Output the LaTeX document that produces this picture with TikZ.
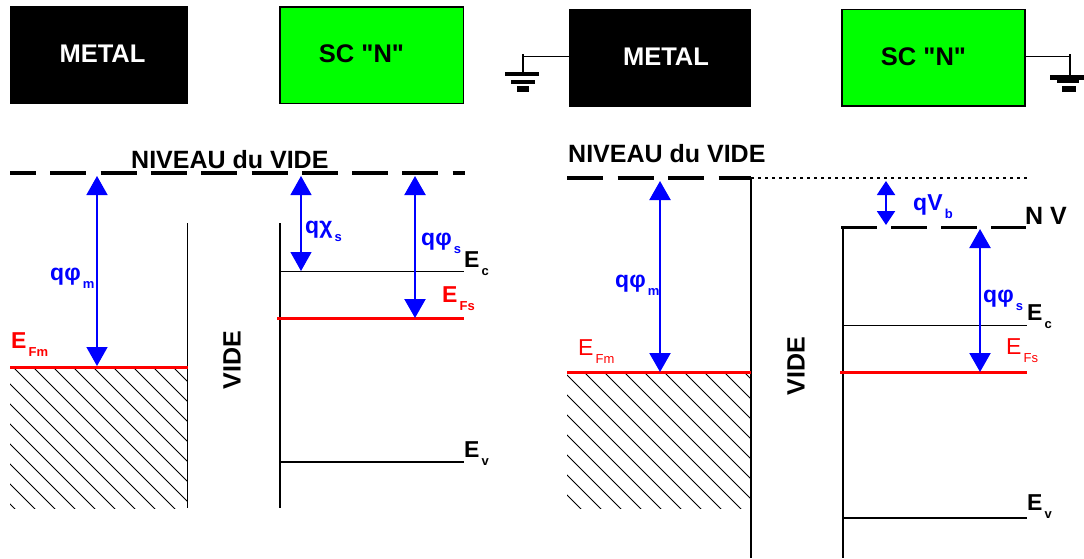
\documentclass[tikz,border=0pt]{standalone}
\usepackage{fontspec}
\setmainfont{Liberation Sans}
\newfontfamily\plainquote{Liberation Sans}
\usepackage{xcolor}
\definecolor{sclime}{HTML}{00FF00}
\definecolor{lvlred}{HTML}{FF0000}
\definecolor{arrblue}{HTML}{0000FF}
\usetikzlibrary{arrows.meta}
\newcommand{\sbs}[1]{\raisebox{-8pt}{\fontsize{13}{13}\selectfont\,#1}}

\begin{document}
\begin{tikzpicture}[x=1pt,y=-1pt]

\tikzstyle{box}=[
	rectangle,
	inner sep=0pt,
	outer sep=0pt,
	minimum height=98pt
]
\tikzstyle{metalbox}=[box, fill=black]
\tikzstyle{scbox}=[box, fill=sclime, draw=black, line width=1.5pt, minimum height=96.5pt]
\tikzstyle{boxtxt}=[inner sep=0pt, anchor=base, font=\plainquote\bfseries\fontsize{25.5}{25.5}\selectfont]
\tikzstyle{lab}=[inner sep=0pt, anchor=base west, font=\bfseries\fontsize{23}{23}\selectfont]
\tikzstyle{blab}=[lab, text=arrblue]
\tikzstyle{rlab}=[lab, text=lvlred]
\tikzstyle{rlabthin}=[rlab, font=\fontsize{23}{23}\selectfont]
\tikzstyle{title}=[inner sep=0pt, anchor=base west, font=\bfseries\fontsize{25}{25}\selectfont]
\tikzstyle{vide}=[inner sep=0pt, rotate=90, font=\bfseries\fontsize{25}{25}\selectfont]
\tikzstyle{arr}=[{Triangle[length=19pt,width=21pt]}-{Triangle[length=19pt,width=21pt]}, arrblue]
\tikzstyle{lvl}=[line width=1pt]
\tikzstyle{lvlthick}=[line width=2.6pt]
\tikzstyle{fermi}=[line width=3pt, lvlred]
\tikzstyle{vac}=[line width=3.5pt, dash pattern=on 36pt off 14.3pt]
\tikzstyle{hatch}=[line width=1pt]
\tikzstyle{gnd}=[line width=2.2pt]

\useasboundingbox (0,0) rectangle (1084,558);

% left pair
\node[metalbox, minimum width=178pt] (metala) at (99,55) {};
\node[boxtxt, text=white] (metalatxt) at (102.5,62) {METAL};
\node[scbox, minimum width=183.5pt] (sca) at (371.5,55) {};
\node[boxtxt] (scatxt) at (361.5,62) {SC "N"};

\begin{scope}
\clip (10,367) rectangle (187,508);
\foreach \x in {-147,-127,...,193} {
	\draw[hatch] (\x,367) -- ++(200,200);
}
\end{scope}

\coordinate (vaca0) at (10,173);
\coordinate (vaca1) at (465,173);
\coordinate (fma0) at (10,367);
\coordinate (fma1) at (188,367);
\coordinate (wma0) at (187,223);
\coordinate (wma1) at (187,508);
\coordinate (wsa0) at (280,223);
\coordinate (wsa1) at (280,508);
\coordinate (eca0) at (280,271);
\coordinate (eca1) at (464,271);
\coordinate (fsa0) at (277,318);
\coordinate (fsa1) at (464,318);
\coordinate (eva0) at (280,462);
\coordinate (eva1) at (464,462);

\draw[vac, dash phase=10pt] (vaca0) -- (vaca1);
\draw[lvl] (wma0) -- (wma1);
\draw[lvlthick] (wsa0) -- (wsa1);
\draw[lvl] (eca0) -- (eca1);
\draw[lvlthick] (eva0) -- (eva1);
\draw[fermi] (fma0) -- (fma1);
\draw[fermi] (fsa0) -- (fsa1);

\coordinate (phima0) at (97,176);
\coordinate (phima1) at (97,366);
\coordinate (chia0) at (301,176);
\coordinate (chia1) at (301,271);
\coordinate (phisa0) at (415,176);
\coordinate (phisa1) at (415,318);
\draw[arr, line width=1.5pt] (phima0) -- (phima1);
\draw[arr, line width=1.2pt] (chia0) -- (chia1);
\draw[arr, line width=2.2pt] (phisa0) -- (phisa1);

\node[title] (vtxta) at (131,168) {NIVEAU du VIDE};
\node[vide] (videa) at (232,360) {VIDE};
\node[blab] (lphima) at (50,280) {qφ\sbs{m}};
\node[blab] (lchia) at (305,233) {qχ\sbs{s}};
\node[blab] (lphisa) at (421,245) {qφ\sbs{s}};
\node[rlab] (lfma) at (11,348) {E\sbs{Fm}};
\node[rlab] (lfsa) at (442,302) {E\sbs{Fs}};
\node[lab] (leca) at (464,267) {E\sbs{c}};
\node[lab] (leva) at (464,457) {E\sbs{v}};

% right pair
\node[metalbox, minimum width=182pt] (metalb) at (660,57.5) {};
\node[boxtxt, text=white] (metalbtxt) at (666,65) {METAL};
\node[scbox, minimum width=183pt] (scb) at (933.5,57.5) {};
\node[boxtxt] (scbtxt) at (923.5,65) {SC "N"};

\coordinate (gla) at (523,56.7);
\coordinate (glb) at (523,74);
\coordinate (gra) at (1070,56.7);
\coordinate (grb) at (1070,77);
\draw[line width=1.5pt] (metalb.west |- gla) -- (gla);
\draw[gnd] (523,54) -- (glb);
\draw[line width=1.5pt] (scb.east |- gra) -- (gra);
\draw[gnd] (1070,54) -- (grb);
\draw[line width=3.5pt] (505,74) -- (539,74);
\draw[line width=3.5pt] (511,82) -- (535,82);
\draw[line width=6pt] (517,89) -- (529,89);
\draw[line width=5pt] (1050,77) -- (1084,77);
\draw[line width=3.5pt] (1057,81.5) -- (1079,81.5);
\draw[line width=6pt] (1062,89) -- (1076,89);

\begin{scope}
\clip (567,372) rectangle (750,508);
\foreach \x in {-150,-130,...,190} {
	\draw[hatch] (\x+554,372) -- ++(200,200);
}
\end{scope}

\coordinate (vacb0) at (567,178);
\coordinate (vacb1) at (751,178);
\coordinate (dotb1) at (1028,178);
\coordinate (nvb0) at (841,227);
\coordinate (nvb1) at (1026,227);
\coordinate (fmb0) at (567,372);
\coordinate (fmb1) at (751,372);
\coordinate (wmb1) at (751,558);
\coordinate (wsb0) at (843,227);
\coordinate (wsb1) at (843,558);
\coordinate (ecb0) at (843,325);
\coordinate (ecb1) at (1027,325);
\coordinate (fsb0) at (840,372);
\coordinate (fsb1) at (1027,372);
\coordinate (evb0) at (843,518);
\coordinate (evb1) at (1027,518);

\draw[vac, dash pattern=on 36pt off 14.5pt] (vacb0) -- (vacb1);
\draw[line width=2.5pt, dash pattern=on 3pt off 4pt] (vacb1) -- (dotb1);
\draw[line width=3pt, dash pattern=on 35.5pt off 14.5pt] (nvb0) -- (nvb1);
\draw[lvl, line width=1.5pt] (vacb1) -- (wmb1);
\draw[lvl, line width=1.5pt] (wsb0) -- (wsb1);
\draw[lvl] (ecb0) -- (ecb1);
\draw[lvl, line width=1.3pt] (evb0) -- (evb1);
\draw[fermi] (fmb0) -- (fmb1);
\draw[fermi] (fsb0) -- (fsb1);

\coordinate (phimb0) at (660,181);
\coordinate (phimb1) at (660,372);
\coordinate (vbb0) at (886,181);
\coordinate (vbb1) at (886,225);
\coordinate (phisb0) at (980,229);
\coordinate (phisb1) at (980,372);
\draw[arr, line width=2.2pt] (phimb0) -- (phimb1);
\draw[arr, line width=2pt, {Triangle[length=14pt,width=18pt]}-{Triangle[length=14pt,width=18pt]}] (vbb0) -- (vbb1);
\draw[arr, line width=2.2pt] (phisb0) -- (phisb1);

\node[title] (vtxtb) at (568,162) {NIVEAU du VIDE};
\node[title] (nvtxt) at (1025,224) {N V};
\node[vide] (videb) at (796,366) {VIDE};
\node[blab] (lphimb) at (615,287) {qφ\sbs{m}};
\node[blab] (lvbb) at (913,210) {qV\sbs{b}};
\node[blab] (lphisb) at (983,302) {qφ\sbs{s}};
\node[rlabthin] (lfmb) at (578,355) {E\sbs{Fm}};
\node[rlabthin] (lfsb) at (1006,354) {E\sbs{Fs}};
\node[lab] (lecb) at (1027,320) {E\sbs{c}};
\node[lab] (levb) at (1027,510) {E\sbs{v}};

\end{tikzpicture}
\end{document}
